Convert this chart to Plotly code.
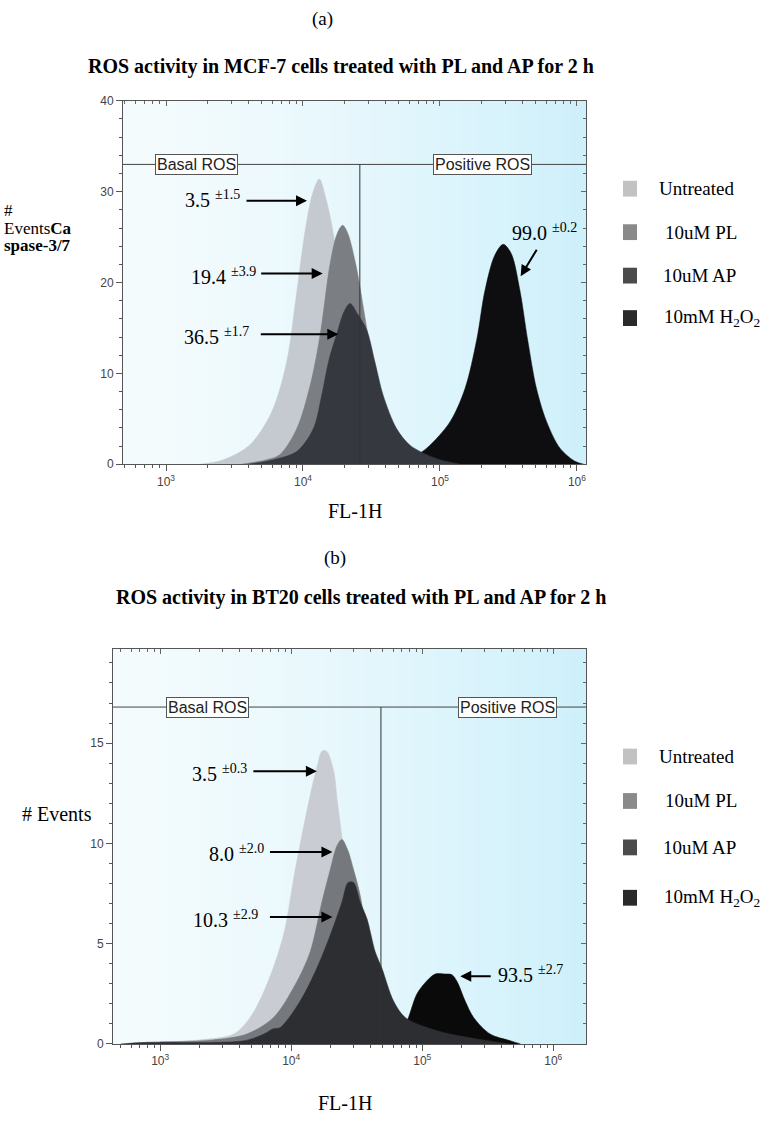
import math
import plotly.graph_objects as go

# ---------------- data: panel (a) MCF-7 ----------------
a_untreated_x = [1780, 2630, 4070, 5890, 7590, 8910, 10350, 11750, 13150, 14720, 16560, 19950, 25120, 33110, 44670, 56230]
a_untreated_y = [0.0, 0.5, 2.1, 5.7, 11.2, 18.4, 25.6, 29.8, 31.4, 29.2, 25.6, 17.0, 8.0, 2.5, 0.4, 0.0]

a_pl_x = [3550, 5430, 6760, 9000, 11560, 13520, 15740, 17780, 19500, 21380, 24270, 26060, 27540, 31620, 39810, 50120, 70790]
a_pl_y = [0.0, 0.5, 1.05, 3.9, 9.35, 14.8, 22.0, 25.4, 26.3, 25.3, 22.0, 19.5, 17.3, 12.0, 5.0, 1.5, 0.0]

a_ap_x = [3980, 6070, 9000, 11890, 13680, 15490, 17780, 19950, 22030, 25120, 29170, 33570, 38550, 48310, 60390, 79980, 100000, 141250]
a_ap_y = [0.0, 0.5, 1.4, 3.9, 7.55, 11.5, 14.5, 16.8, 17.7, 16.5, 14.8, 11.2, 7.55, 3.9, 2.1, 1.05, 0.5, 0.0]

a_h2o2_x = [50120, 57150, 79980, 118300, 152100, 185400, 212800, 251200, 289700, 331100, 383700, 436500, 507000, 601200, 751600, 966100, 1122000]
a_h2o2_y = [0.0, 0.33, 1.77, 4.66, 8.3, 13.7, 19.1, 23.0, 24.2, 23.2, 19.1, 13.7, 8.3, 4.66, 1.77, 0.33, 0.0]

# ---------------- data: panel (b) BT20 ----------------
b_untreated_x = [617, 1995, 3630, 4860, 6520, 8730, 10740, 13550, 15850, 17180, 18620, 21040, 22590, 24380, 28180, 35480, 44670, 56230]
b_untreated_y = [0.05, 0.2, 0.49, 1.32, 2.96, 5.43, 8.7, 12.0, 13.9, 14.6, 14.6, 13.65, 12.0, 10.36, 7.0, 3.0, 1.0, 0.0]

b_pl_x = [1000, 2510, 4570, 7330, 10740, 13960, 17140, 19860, 22390, 24380, 26920, 29920, 33650, 39810, 50120, 70790, 100000]
b_pl_y = [0.1, 0.2, 0.49, 1.32, 2.96, 4.6, 7.07, 8.7, 9.9, 10.2, 9.7, 8.7, 7.4, 4.5, 2.0, 0.4, 0.0]

b_ap_x = [500, 794, 4370, 6170, 7240, 8240, 11720, 15700, 19860, 24380, 27200, 29900, 33650, 37840, 43750, 49200, 60390, 74130, 108600, 163700, 261800, 467700]
b_ap_y = [0.0, 0.08, 0.16, 0.49, 0.75, 0.82, 2.14, 3.78, 5.43, 7.07, 8.05, 8.05, 7.07, 6.25, 4.6, 3.78, 2.14, 1.32, 0.82, 0.49, 0.25, 0.0]

b_h2o2_x = [56230, 70790, 78520, 91200, 108600, 125900, 147900, 168700, 184100, 212800, 246600, 330400, 469900, 562300]
b_h2o2_y = [0.2, 0.7, 1.32, 2.5, 3.15, 3.49, 3.49, 3.45, 3.12, 2.14, 1.32, 0.49, 0.16, 0.0]

series_names = ["Untreated", "10uM PL", "10uM AP", "10mM H<sub>2</sub>O<sub>2</sub>"]

# gates
a_gate_y, a_gate_x = 33, 26000
b_gate_y, b_gate_x = 16.8, 48400
gate_labels = ["Basal ROS", "Positive ROS"]

# percentages (mean, sd)
a_pct = [("3.5", "±1.5"), ("19.4", "±3.9"), ("36.5", "±1.7"), ("99.0", "±0.2")]
b_pct = [("3.5", "±0.3"), ("8.0", "±2.0"), ("10.3", "±2.9"), ("93.5", "±2.7")]

x_tickvals = [1e3, 1e4, 1e5, 1e6]
x_ticktext = ["10<sup>3</sup>", "10<sup>4</sup>", "10<sup>5</sup>", "10<sup>6</sup>"]

# ---------------- style ----------------
W, H = 764, 1124
def PX(x): return x / W
def PY(y): return 1 - y / H

SERIF = "Liberation Serif, Times New Roman, serif"
SANS = "Liberation Sans, Arial, sans-serif"

col_a = ["#c5c9d0", "#7b7f84", "#35383e", "#0e0e10"]
col_b = ["#c9cdd3", "#75797d", "#2d2e32", "#0a0a0b"]
legend_cols = ["#c2c2c2", "#8a8a8a", "#4b4b4b", "#2a2a2a"]

fig = go.Figure()

def add_curve(x, y, color, xa, ya):
    fig.add_trace(go.Scatter(
        x=x, y=y, mode="lines", fill="tozeroy", fillcolor=color,
        line=dict(color=color, width=0.5, shape="spline", smoothing=0.9),
        xaxis=xa, yaxis=ya, showlegend=False, hoverinfo="skip"))

# draw order: H2O2 behind, then untreated, PL, AP
add_curve(a_h2o2_x, a_h2o2_y, col_a[3], "x", "y")
add_curve(a_untreated_x, a_untreated_y, col_a[0], "x", "y")
add_curve(a_pl_x, a_pl_y, col_a[1], "x", "y")
add_curve(a_ap_x, a_ap_y, col_a[2], "x", "y")

add_curve(b_h2o2_x, b_h2o2_y, col_b[3], "x2", "y2")
add_curve(b_untreated_x, b_untreated_y, col_b[0], "x2", "y2")
add_curve(b_pl_x, b_pl_y, col_b[1], "x2", "y2")
add_curve(b_ap_x, b_ap_y, col_b[2], "x2", "y2")

# empty traces so that the mirrored tick axes (top / right) get drawn
for xa, ya in (("x3", "y3"), ("x4", "y4")):
    fig.add_trace(go.Scatter(x=[None], y=[None], mode="lines", xaxis=xa, yaxis=ya,
                             showlegend=False, hoverinfo="skip"))

axis_common = dict(showgrid=False, zeroline=False, showline=True, linecolor="#555", linewidth=1,
                   mirror=True, ticks="outside", ticklen=6, tickcolor="#555",
                   tickfont=dict(family=SANS, size=12, color="#444"))
# mirrored (top / right) axes carry inside ticks only
mirror_common = dict(showgrid=False, zeroline=False, showline=False, ticks="inside", ticklen=5,
                     tickcolor="#666", showticklabels=False)

xr_a, xr_b = [2.686, 6.066], [2.64, 6.25]
yr_a, yr_b = [0, 40], [0, 19.7]

fig.update_layout(
    width=W, height=H, margin=dict(l=0, r=0, t=0, b=0),
    paper_bgcolor="white", plot_bgcolor="white",
    xaxis=dict(type="log", range=xr_a, domain=[PX(123), PX(586)], anchor="y",
               tickvals=x_tickvals, ticktext=x_ticktext,
               minor=dict(ticks="outside", ticklen=3, tickcolor="#555", dtick="D1"), **axis_common),
    yaxis=dict(range=yr_a, domain=[PY(463), PY(95)], anchor="x", dtick=10,
               minor=dict(ticks="outside", ticklen=3, tickcolor="#555", dtick=2), **axis_common),
    xaxis2=dict(type="log", range=xr_b, domain=[PX(113), PX(586)], anchor="y2",
                tickvals=x_tickvals, ticktext=x_ticktext,
                minor=dict(ticks="outside", ticklen=3, tickcolor="#555", dtick="D1"), **axis_common),
    yaxis2=dict(range=yr_b, domain=[PY(1050), PY(650)], anchor="x2", dtick=5,
                minor=dict(ticks="outside", ticklen=3, tickcolor="#555", dtick=1), **axis_common),
    xaxis3=dict(type="log", range=xr_a, overlaying="x", side="top", anchor="y3", tickvals=x_tickvals,
                minor=dict(ticks="inside", ticklen=3, tickcolor="#666", dtick="D1"), **mirror_common),
    yaxis3=dict(range=yr_a, overlaying="y", side="right", anchor="x3", dtick=10,
                minor=dict(ticks="inside", ticklen=3, tickcolor="#666", dtick=2), **mirror_common),
    xaxis4=dict(type="log", range=xr_b, overlaying="x2", side="top", anchor="y4", tickvals=x_tickvals,
                minor=dict(ticks="inside", ticklen=3, tickcolor="#666", dtick="D1"), **mirror_common),
    yaxis4=dict(range=yr_b, overlaying="y2", side="right", anchor="x4", dtick=5,
                minor=dict(ticks="inside", ticklen=3, tickcolor="#666", dtick=1), **mirror_common),
)

# background gradient strips (white -> light cyan)
def lerp(c0, c1, t):
    return "rgb(%d,%d,%d)" % tuple(round(a + (b - a) * t) for a, b in zip(c0, c1))
c_left, c_right = (244, 251, 253), (206, 240, 251)
N = 60
for xa, ya in (("x", "y"), ("x2", "y2")):
    for i in range(N):
        fig.add_shape(type="rect", xref=f"{xa} domain", yref=f"{ya} domain",
                      x0=i / N, x1=(i + 1) / N + 0.002, y0=0, y1=1,
                      fillcolor=lerp(c_left, c_right, (i / (N - 1)) ** 1.4),
                      line=dict(width=0), layer="below")

# gate lines
for xa, ya, gy, gx in (("x", "y", a_gate_y, a_gate_x), ("x2", "y2", b_gate_y, b_gate_x)):
    fig.add_shape(type="line", xref=f"{xa} domain", yref=ya, x0=0, x1=1, y0=gy, y1=gy,
                  line=dict(color="#444", width=1), layer="above")
    fig.add_shape(type="line", xref=xa, yref=ya, x0=gx, x1=gx, y0=0, y1=gy,
                  line=dict(color="#333", width=1), layer="above")

# gate label boxes
for ya, gy, cx in (("y", a_gate_y, (196, 482)), ("y2", b_gate_y, (207, 507))):
    for lab, x in zip(gate_labels, cx):
        fig.add_annotation(x=PX(x), xref="paper", y=gy, yref=ya, text=lab, showarrow=False,
                           font=dict(family=SANS, size=16, color="#222"),
                           bgcolor="white", bordercolor="#555", borderwidth=1, borderpad=1,
                           xanchor="center", yanchor="middle")

def pct_text(p):
    return f"{p[0]} <sup>{p[1]}</sup>"

# percentage labels (text centre px) and arrows (head in data coords, tail offset px)
a_text_pos = [(212, 194), (224, 272), (216, 333), (544, 228)]
a_arrow = [(10700, 29.0, -62, 0), (13930, 21.0, -63, 0), (18110, 14.3, -79, 0), (388000, 20.7, 17, -28)]
b_text_pos = [(219, 776), (236, 857), (225, 923), (530, 979)]
b_arrow = [(15700, 13.6, -65, 0), (20650, 9.57, -64, 0), (20650, 6.33, -64, 0), (195000, 3.37, 32, 0)]

for pcts, tpos, arrows, xa, ya in ((a_pct, a_text_pos, a_arrow, "x", "y"),
                                   (b_pct, b_text_pos, b_arrow, "x2", "y2")):
    for p, (tx, ty), (hx, hy, ax, ay) in zip(pcts, tpos, arrows):
        fig.add_annotation(x=PX(tx), y=PY(ty), xref="paper", yref="paper", text=pct_text(p),
                           showarrow=False, font=dict(family=SERIF, size=20, color="black"),
                           xanchor="center", yanchor="middle")
        # annotation positions on log axes are given in log10 units
        fig.add_annotation(x=math.log10(hx), y=hy, xref=xa, yref=ya, ax=ax, ay=ay, text="",
                           showarrow=True, arrowhead=2, arrowsize=1.1, arrowwidth=2, arrowcolor="black")

# custom legends
leg_a_y = [184, 228, 272, 315]
leg_b_y = [759, 804, 851, 902]
leg_text_x = [657, 663, 661, 662]
for ys in (leg_a_y, leg_b_y):
    for name, c, yc, tx in zip(series_names, legend_cols, ys, leg_text_x):
        fig.add_shape(type="rect", xref="paper", yref="paper", x0=PX(623), x1=PX(637),
                      y0=PY(yc + 8), y1=PY(yc - 8), fillcolor=c, line=dict(width=0))
        fig.add_annotation(x=PX(tx), y=PY(yc), xref="paper", yref="paper", text=name,
                           showarrow=False, xanchor="left", yanchor="middle",
                           font=dict(family=SERIF, size=19, color="black"))

# titles and labels
def label(text, x, y, size=20, anchor="center"):
    fig.add_annotation(x=PX(x), y=PY(y), xref="paper", yref="paper", text=text, showarrow=False,
                       xanchor=anchor, yanchor="middle", font=dict(family=SERIF, size=size, color="black"))

label("(a)", 322, 12, 19)
label("<b>ROS activity in MCF-7 cells treated with PL and AP for 2 h</b>", 341, 60, 20)
label("(b)", 335, 558, 19)
label("<b>ROS activity in BT20 cells treated with PL and AP for 2 h</b>", 361, 598, 20)
label("FL-1H", 355, 510, 20)
label("FL-1H", 345, 1110, 20)
label("#", 2, 206, 17, "left")
label("Events<b>Ca</b>", 2, 224, 17, "left")
label("<b>spase-3/7</b>", 2, 242, 17, "left")
label("# Events", 20, 817, 20, "left")

fig.write_html("out.html", config={"displayModeBar": False},
               post_script="document.body.style.margin='0';document.body.style.overflow='hidden';")
